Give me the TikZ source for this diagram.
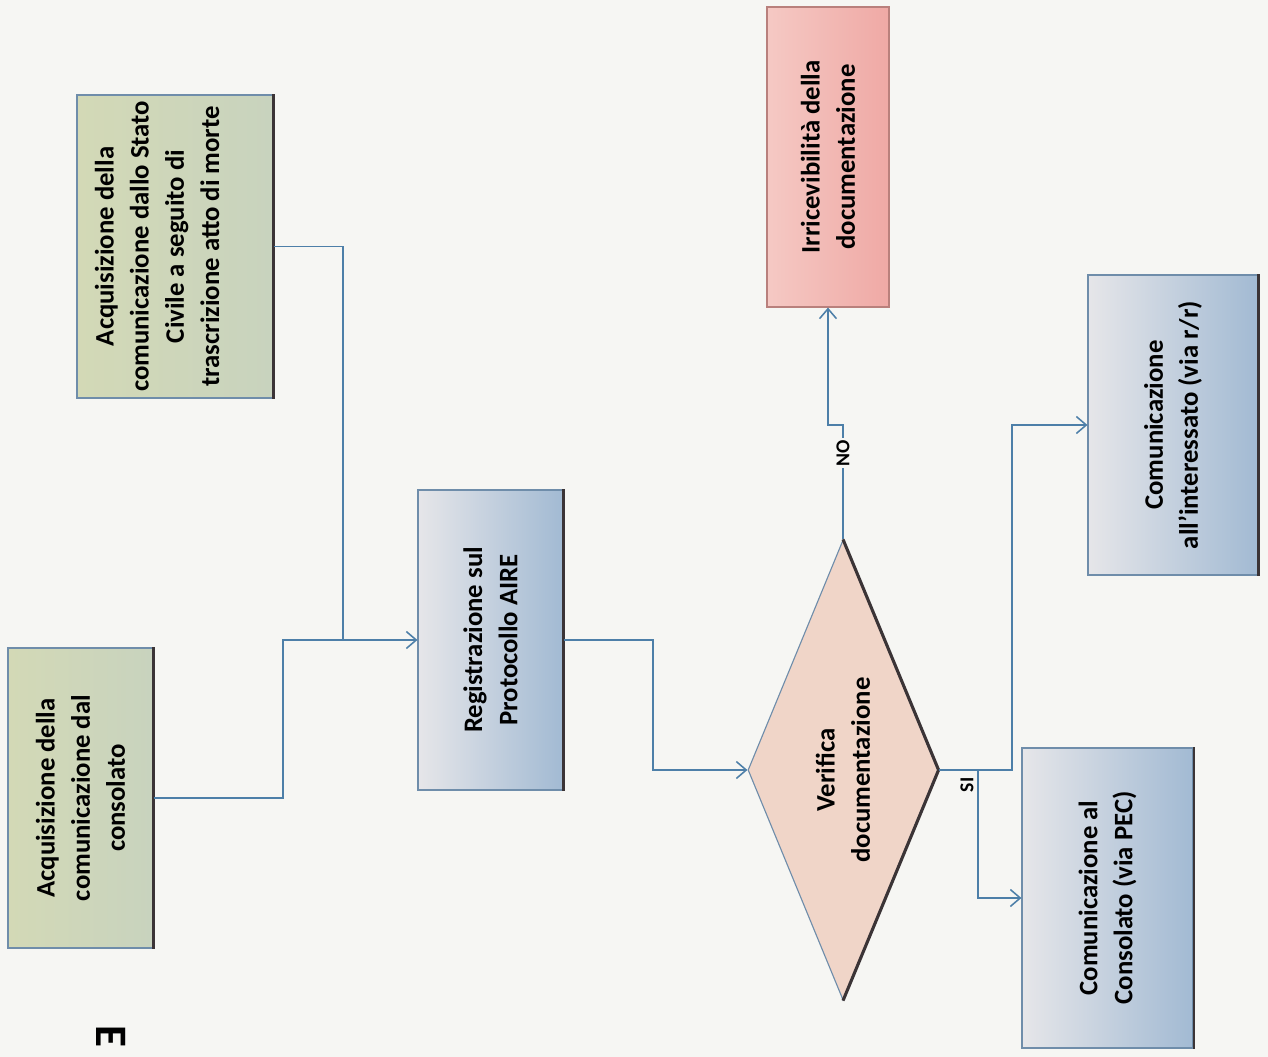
\documentclass[tikz,border=0pt]{standalone}
\usepackage{fontspec}
\setmainfont{Carlito}
\usetikzlibrary{shapes.geometric,arrows.meta}

\definecolor{paper}{HTML}{F6F6F3}
\definecolor{boxline}{HTML}{6F8DAA}
\definecolor{edgedark}{HTML}{3B3436}
\definecolor{linkblue}{HTML}{4D7FA8}
\definecolor{greenL}{HTML}{D3D9B6}
\definecolor{greenR}{HTML}{C8D3BE}
\definecolor{blueL}{HTML}{E6E6E9}
\definecolor{blueR}{HTML}{A2BAD3}
\definecolor{redL}{HTML}{F5C9C4}
\definecolor{redR}{HTML}{EFA9A5}
\definecolor{redline}{HTML}{B9807C}
\definecolor{peach}{HTML}{F0D5C8}

\begin{document}
\begin{tikzpicture}[x=0.025cm,y=-0.025cm,
        box/.style={rectangle,draw=boxline,line width=0.8pt,rotate=90,align=center,inner sep=0pt,
            font=\fontsize{19}{25}\selectfont\bfseries},
        greenbox/.style={box,left color=greenL,right color=greenR},
        bluebox/.style={box,left color=blueL,right color=blueR},
        redbox/.style={box,draw=redline,left color=redL,right color=redR},
        boxtext/.style={rotate=90,align=center,font=\fontsize{19}{25}\selectfont\bfseries},
        tag/.style={rotate=90,fill=paper,inner sep=1pt,font=\fontsize{14}{16}\selectfont\bfseries},
        conn/.style={draw=linkblue,line width=1.1pt},
        arr/.style={conn,-{Straight Barb[length=7pt,width=12pt,line width=1.1pt]}},
        shade/.style={draw=edgedark,line width=2.2pt}]
        \fill[paper] (0,0) rectangle (1268,1057);
        \useasboundingbox (0,0) rectangle (1268,1057);

        \node (cons) at (80.5,798) [greenbox,minimum width=7.5cm,minimum height=3.625cm]
            {Acquisizione della\\comunicazione dal\\consolato};
        \node (stato) at (175,246.5) [greenbox,minimum width=7.575cm,minimum height=4.9cm] {};
        \node (statotext) at (157,246.5) [boxtext]
            {Acquisizione della\\comunicazione dallo Stato\\Civile a seguito di\\trascrizione atto di morte};
        \node (reg) at (490.5,640) [bluebox,minimum width=7.5cm,minimum height=3.625cm]
            {Registrazione sul\\Protocollo AIRE};
        \node (ver) at (843,770) [diamond,draw=boxline,line width=0.8pt,fill=peach,rotate=90,aspect=2.4,
            inner sep=0pt,minimum width=11.5cm,minimum height=4.75cm,align=center,
            font=\fontsize{19}{25}\selectfont\bfseries] {Verifica\\documentazione};
        \node (irr) at (828,157) [redbox,minimum width=7.5cm,minimum height=3.05cm]
            {Irricevibilità della\\documentazione};
        \node (intr) at (1173,425) [bluebox,minimum width=7.5cm,minimum height=4.25cm]
            {Comunicazione\\all'interessato (via r/r)};
        \node (pec) at (1107.5,898) [bluebox,minimum width=7.5cm,minimum height=4.275cm]
            {Comunicazione al\\Consolato (via PEC)};
        \node (title) at (111,1036) [rotate=-90,font=\fontsize{32}{34}\selectfont\bfseries] {E};

        \draw[shade] (cons.south west) -- (cons.south east);
        \draw[shade] (stato.south west) -- (stato.south east);
        \draw[shade] (reg.south west) -- (reg.south east);
        \draw[shade] (intr.south west) -- (intr.south east);
        \draw[shade,line width=1.4pt] (pec.south west) -- (pec.south east);
        \draw[shade] (ver.east) -- (ver.south) -- (ver.west);

        \coordinate (join) at (343,640);
        \coordinate (sifork) at (978,770);
        \draw[conn] (stato.south) -| (join);
        \draw[arr] (cons.south) -| (283,640) -- (reg.north);
        \draw[arr] (reg.south) -| (653,770) -- (ver.north);
        \draw[arr] (ver.east) -- (843,425) -- (828,425) -- (irr.west);
        \node (no) at (843,453) [tag] {NO};
        \draw[arr] (ver.south) -- (1012,770) |- (intr.north);
        \draw[arr] (sifork) |- (pec.north);
        \node (si) at (967,785) [tag] {SI};
    \end{tikzpicture}
\end{document}
